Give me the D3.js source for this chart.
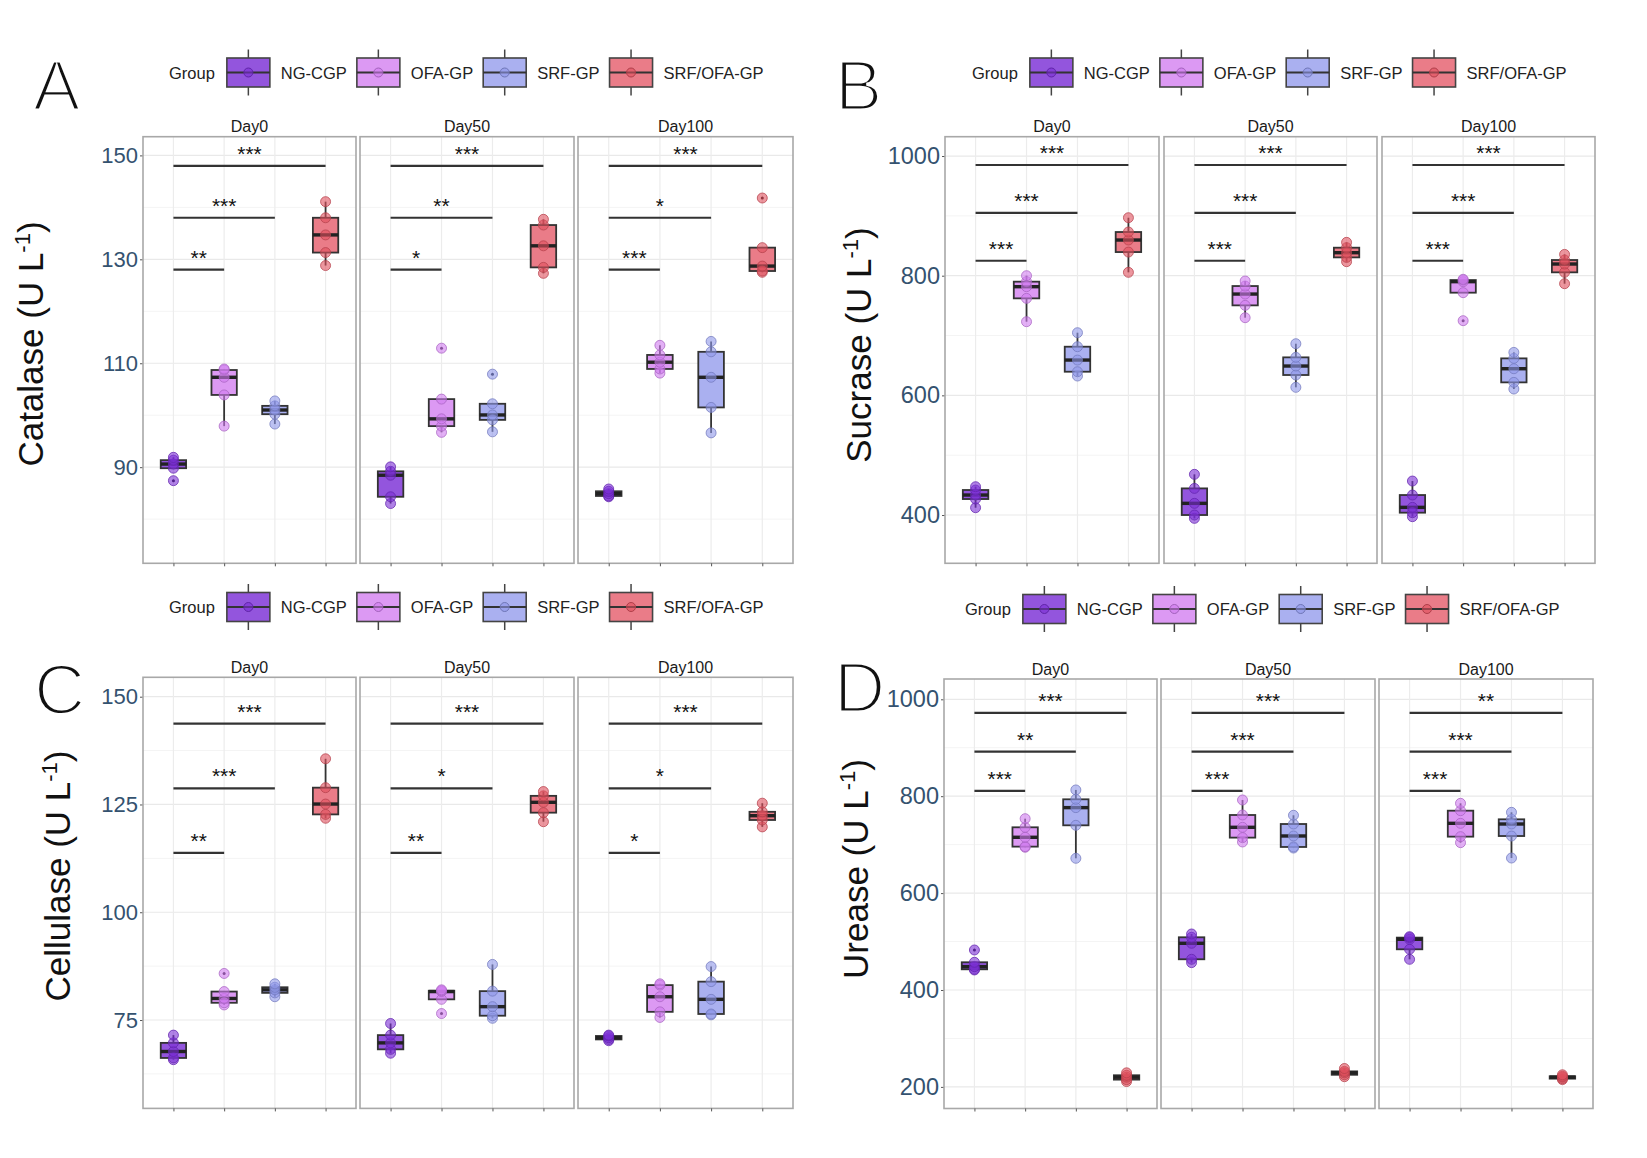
<!DOCTYPE html>
<html>
<head>
<meta charset="utf-8">
<script src="https://cdn.jsdelivr.net/npm/d3@7"></script>
<style>
  body { margin: 0; background: #fff; }
  text { font-family: "Liberation Sans", Arial, sans-serif; }
</style>
</head>
<body>
<div id="chart"></div>
<script>
var W = 1647, H = 1158;

var groups = ["NG-CGP", "OFA-GP", "SRF-GP", "SRF/OFA-GP"];
var days = ["Day0", "Day50", "Day100"];
var colors = ["#7b2ed6", "#d07cf0", "#8f97ea", "#e0505e"];
var boxFill = ["#9355dd", "#dc99f3", "#aab0f0", "#ea7c88"];

// replicates per group: day -> group -> values
var catalase = [
  [[87.4, 89.8, 90.6, 91.35, 91.9], [97.9, 103.9, 107.3, 108.7, 108.9], [98.3, 100.2, 101.0, 101.8, 102.75], [128.8, 131.3, 134.7, 138.0, 141.1]],
  [[83.0, 84.3, 88.45, 89.2, 90.06], [96.7, 97.9, 99.3, 103.1, 112.9], [96.8, 99.1, 100.05, 102.2, 107.9], [127.3, 128.45, 132.6, 136.6, 137.7]],
  [[84.3, 84.46, 84.9, 85.36, 85.8], [108.1, 108.9, 110.2, 111.6, 113.45], [96.6, 101.5, 107.3, 112.2, 114.2], [127.5, 127.75, 128.7, 132.25, 141.8]]
];
var sucrase = [
  [[412.2, 426.7, 433.4, 441.8, 447.3], [723.1, 762.1, 781.6, 790, 800], [632.3, 639.5, 659, 681.3, 704.7], [805.6, 839.5, 859.6, 873, 896.9]],
  [[394.4, 400, 419.5, 444.5, 468], [729.8, 750.4, 769.3, 782.7, 791.1], [613.4, 634, 649, 663.5, 686.3], [823.4, 830.6, 838.4, 846.8, 855.7]],
  [[397.2, 403.9, 412.8, 433.4, 456.8], [724.8, 771.6, 790, 792.7, 794], [610.6, 621.7, 644.5, 661.8, 671.8], [786.6, 805.6, 819.5, 826.2, 835.6]]
];
var cellulase = [
  [[65.8, 66.2, 67.7, 69.7, 71.5], [78.5, 79.0, 80.0, 81.6, 85.8], [80.4, 81.3, 82.0, 82.6, 83.4], [121.8, 122.7, 125.1, 128.9, 135.6]],
  [[67.3, 68.2, 69.7, 71.5, 74.2], [76.5, 79.8, 81.6, 81.8, 82.0], [75.4, 76.0, 78.1, 81.7, 87.9], [121.0, 123.1, 125.5, 127.0, 128.0]],
  [[70.2, 70.5, 70.9, 71.3, 71.5], [75.6, 76.9, 80.4, 83.1, 83.4], [76.2, 76.4, 79.8, 83.9, 87.4], [119.8, 121.4, 122.4, 123.3, 125.3]]
];
var urease = [
  [[441.3, 442.7, 448.2, 457.2, 482.6], [694.5, 695.9, 715.2, 735.8, 753.6], [671.8, 739.9, 776.4, 793.6, 812.9], [211, 215, 220, 224, 229]],
  [[456.5, 463.4, 496.4, 508.8, 515.6], [705.5, 714.5, 735.8, 761.2, 792.2], [693, 695.2, 717.9, 742.6, 760.6], [221, 225, 229, 232, 238]],
  [[463.3, 484, 504.6, 508.1, 510.1], [704.1, 716.5, 744, 770.1, 785.3], [672.4, 717.8, 742.6, 752.3, 766.7], [215, 217, 220, 222, 225]]
];

// significance vs NG-CGP: [SRF/OFA-GP, SRF-GP, OFA-GP] for each day
var catalaseSig = [["***", "***", "**"], ["***", "**", "*"], ["***", "*", "***"]];
var sucraseSig = [["***", "***", "***"], ["***", "***", "***"], ["***", "***", "***"]];
var cellulaseSig = [["***", "***", "**"], ["***", "*", "**"], ["***", "*", "*"]];
var ureaseSig = [["***", "**", "***"], ["***", "***", "***"], ["**", "***", "***"]];

var catalaseBrackets = [148, 138, 128];
var sucraseBrackets = [985, 905, 825];
var cellulaseBrackets = [143.75, 128.75, 113.75];
var ureaseBrackets = [972, 892, 811];

var catalaseTicks = [90, 110, 130, 150];
var sucraseTicks = [400, 600, 800, 1000];
var cellulaseTicks = [75, 100, 125, 150];
var ureaseTicks = [200, 400, 600, 800, 1000];

var panels = [
  { letter: "A", name: "Catalase", data: catalase, sig: catalaseSig, br: catalaseBrackets, ticks: catalaseTicks,
    domain: [71.5, 153.6], top: 136.7, bottom: 563.3, facets: [[143, 356], [360, 574], [578, 793]],
    titleX: 43, titleY: 344, tickSize: 22, legendX: 169, legendY: 72.5, letterX: 34, letterY: 108 },
  { letter: "B", name: "Sucrase", data: sucrase, sig: sucraseSig, br: sucraseBrackets, ticks: sucraseTicks,
    domain: [319.3, 1032.3], top: 136.7, bottom: 563.3, facets: [[945, 1159], [1164, 1377], [1382, 1595]],
    titleX: 871, titleY: 345, tickSize: 23.5, legendX: 972, legendY: 72.5, letterX: 836, letterY: 108 },
  { letter: "C", name: "Cellulase", data: cellulase, sig: cellulaseSig, br: cellulaseBrackets, ticks: cellulaseTicks,
    domain: [54.5, 154.5], top: 677.3, bottom: 1108.4, facets: [[143, 356], [360, 574], [578, 793]],
    titleX: 70, titleY: 876, tickSize: 22, legendX: 169, legendY: 607, letterX: 35, letterY: 712 },
  { letter: "D", name: "Urease", data: urease, sig: ureaseSig, br: ureaseBrackets, ticks: ureaseTicks,
    domain: [155.4, 1041.9], top: 679, bottom: 1108.5, facets: [[944, 1157], [1161, 1375], [1379, 1593]],
    titleX: 868, titleY: 869, tickSize: 23.5, legendX: 965, legendY: 609, letterX: 835, letterY: 710 }
];

var svg = d3.select("#chart").append("svg")
  .attr("width", W)
  .attr("height", H);
svg.append("rect").attr("width", W).attr("height", H).attr("fill", "#fff");

function legend(x0, cy) {
  var lg = svg.append("g");
  var t = lg.append("text")
    .attr("x", x0).attr("y", cy + 6)
    .attr("font-size", 16.5).attr("fill", "#222")
    .text("Group");
  var cx = x0 + t.node().getComputedTextLength() + 12;
  groups.forEach(function (gr, gi) {
    lg.append("line")
      .attr("x1", cx + 21.5).attr("x2", cx + 21.5)
      .attr("y1", cy - 23).attr("y2", cy + 23)
      .attr("stroke", "#444").attr("stroke-width", 1.5);
    lg.append("rect")
      .attr("x", cx).attr("y", cy - 14.5)
      .attr("width", 43).attr("height", 29)
      .attr("fill", boxFill[gi]).attr("stroke", "#444").attr("stroke-width", 1.6);
    lg.append("line")
      .attr("x1", cx).attr("x2", cx + 43)
      .attr("y1", cy).attr("y2", cy)
      .attr("stroke", "#333").attr("stroke-width", 2);
    lg.append("circle")
      .attr("cx", cx + 21.5).attr("cy", cy).attr("r", 4.5)
      .attr("fill", colors[gi]).attr("fill-opacity", 0.6)
      .attr("stroke", d3.color(colors[gi]).darker(0.7)).attr("stroke-width", 1);
    var lt = lg.append("text")
      .attr("x", cx + 54).attr("y", cy + 6)
      .attr("font-size", 16.5).attr("fill", "#222")
      .text(gr);
    cx = cx + 54 + lt.node().getComputedTextLength() + 10;
  });
}

panels.forEach(function (p) {
  var y = d3.scaleLinear().domain(p.domain).range([p.bottom, p.top]);
  var step = p.ticks[1] - p.ticks[0];
  var minor = d3.range(p.ticks[0] - step / 2, p.domain[1], step).filter(function (v) { return v > p.domain[0]; });

  // panel letter, thinned with a white stroke to look like a light face
  svg.append("text")
    .attr("x", p.letterX - 1).attr("y", p.letterY + 1.5)
    .attr("font-family", "Roboto, Lato, sans-serif")
    .attr("font-size", 71)
    .attr("fill", "#111")
    .attr("stroke", "#fff")
    .attr("stroke-width", 3)
    .text(p.letter);

  legend(p.legendX, p.legendY);

  // y title
  var title = svg.append("text")
    .attr("transform", "translate(" + p.titleX + "," + p.titleY + ") rotate(-90)")
    .attr("text-anchor", "middle")
    .attr("font-size", 35)
    .attr("fill", "#111");
  title.append("tspan").text(p.name + " (U L");
  title.append("tspan").attr("font-size", 22).attr("dy", -13).text("-1");
  title.append("tspan").attr("dy", 13).text(")");

  // y axis
  var ax = svg.append("g")
    .attr("transform", "translate(" + p.facets[0][0] + ",0)")
    .call(d3.axisLeft(y).tickValues(p.ticks).tickSize(3).tickPadding(2).tickFormat(d3.format("d")));
  ax.select(".domain").remove();
  ax.attr("font-family", "'Liberation Sans', Arial, sans-serif").attr("font-size", p.tickSize);
  ax.selectAll("line").attr("stroke", "#555");
  ax.selectAll("text").attr("fill", "#34526f");

  p.facets.forEach(function (f, di) {
    var x = d3.scalePoint().domain(groups).range(f).padding(0.6);
    var bw = x.step() * 0.5;
    var g = svg.append("g");

    g.selectAll(".minor").data(minor).enter().append("line")
      .attr("x1", f[0]).attr("x2", f[1])
      .attr("y1", function (d) { return y(d); }).attr("y2", function (d) { return y(d); })
      .attr("stroke", "#f4f4f4").attr("stroke-width", 1);
    g.selectAll(".major").data(p.ticks).enter().append("line")
      .attr("x1", f[0]).attr("x2", f[1])
      .attr("y1", function (d) { return y(d); }).attr("y2", function (d) { return y(d); })
      .attr("stroke", "#e9e9e9").attr("stroke-width", 1.2);
    g.selectAll(".vgrid").data(groups).enter().append("line")
      .attr("x1", function (d) { return x(d); }).attr("x2", function (d) { return x(d); })
      .attr("y1", p.top).attr("y2", p.bottom)
      .attr("stroke", "#ececec").attr("stroke-width", 1.2);

    var xa = svg.append("g")
      .attr("transform", "translate(0," + p.bottom + ")")
      .call(d3.axisBottom(x).tickSize(3).tickFormat(""));
    xa.select(".domain").remove();
    xa.selectAll("line").attr("stroke", "#555");

    // significance bars against NG-CGP
    [3, 2, 1].forEach(function (k, j) {
      var x1 = x(groups[0]), x2 = x(groups[k]);
      g.append("line")
        .attr("x1", x1).attr("x2", x2)
        .attr("y1", y(p.br[j])).attr("y2", y(p.br[j]))
        .attr("stroke", "#333").attr("stroke-width", 2.2);
      g.append("text")
        .attr("x", (x1 + x2) / 2).attr("y", y(p.br[j]) - 5)
        .attr("text-anchor", "middle")
        .attr("font-size", 21).attr("fill", "#111")
        .text(p.sig[di][j]);
    });

    groups.forEach(function (gr, gi) {
      var v = p.data[di][gi].slice().sort(d3.ascending);
      var q1 = d3.quantile(v, 0.25), med = d3.quantile(v, 0.5), q3 = d3.quantile(v, 0.75);
      var iqr = q3 - q1;
      var inside = v.filter(function (d) { return d >= q1 - 1.5 * iqr && d <= q3 + 1.5 * iqr; });
      var out = v.filter(function (d) { return inside.indexOf(d) < 0; });
      var lo = Math.min(d3.min(inside), q1), hi = Math.max(d3.max(inside), q3);
      var cx = x(gr);

      g.append("line")
        .attr("x1", cx).attr("x2", cx).attr("y1", y(hi)).attr("y2", y(q3))
        .attr("stroke", "#333").attr("stroke-width", 1.8);
      g.append("line")
        .attr("x1", cx).attr("x2", cx).attr("y1", y(q1)).attr("y2", y(lo))
        .attr("stroke", "#333").attr("stroke-width", 1.8);
      g.append("rect")
        .attr("x", cx - bw / 2).attr("width", bw)
        .attr("y", y(q3)).attr("height", Math.max(y(q1) - y(q3), 1))
        .attr("fill", boxFill[gi])
        .attr("stroke", "#333").attr("stroke-width", 1.8);
      g.append("line")
        .attr("x1", cx - bw / 2).attr("x2", cx + bw / 2)
        .attr("y1", y(med)).attr("y2", y(med))
        .attr("stroke", "#222").attr("stroke-width", 3.4);

      g.selectAll(".pt" + gi).data(v).enter().append("circle")
        .attr("cx", cx).attr("cy", function (d) { return y(d); })
        .attr("r", 5)
        .attr("fill", colors[gi]).attr("fill-opacity", 0.6)
        .attr("stroke", d3.color(colors[gi]).darker(0.6)).attr("stroke-opacity", 0.75)
        .attr("stroke-width", 1);
      g.selectAll(".out" + gi).data(out).enter().append("circle")
        .attr("cx", cx).attr("cy", function (d) { return y(d); })
        .attr("r", 1.5)
        .attr("fill", d3.color(colors[gi]).darker(1.2));
    });

    g.append("rect")
      .attr("x", f[0]).attr("y", p.top)
      .attr("width", f[1] - f[0]).attr("height", p.bottom - p.top)
      .attr("fill", "none").attr("stroke", "#a8a8a8").attr("stroke-width", 1.6);

    svg.append("text")
      .attr("x", (f[0] + f[1]) / 2).attr("y", p.top - 4.5)
      .attr("text-anchor", "middle")
      .attr("font-size", 16).attr("fill", "#1a1a1a")
      .text(days[di]);
  });
});
</script>
</body>
</html>
